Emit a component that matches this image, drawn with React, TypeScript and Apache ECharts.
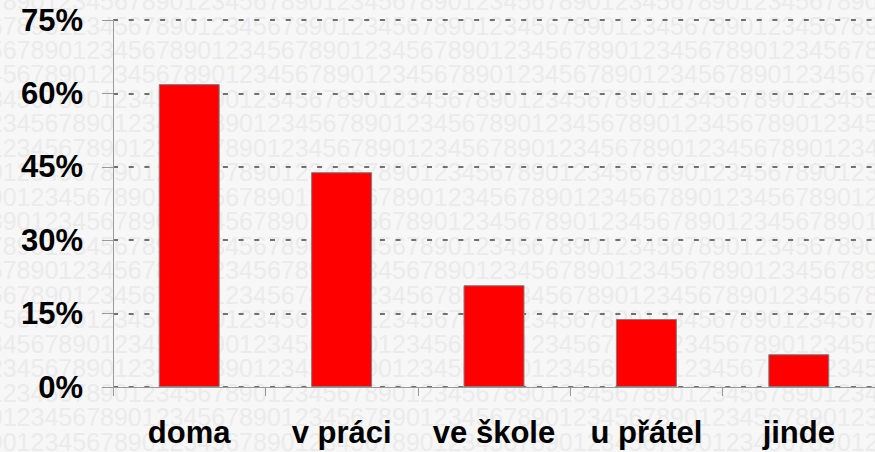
import React, { useEffect, useRef } from "react";
import * as echarts from "echarts";

const categories = ["doma", "v práci", "ve škole", "u přátel", "jinde"];
const shares = [61.9, 43.9, 20.8, 13.9, 6.7];
const yTicks = { min: 0, max: 75, interval: 15 };

function patternRows() {
  const rows: any[] = [];
  for (let k = 0; k < 19; k++) {
    const first = (((5 - k - 28) % 10) + 10) % 10;
    let s = "";
    for (let j = 0; j < 68; j++) {
      s += String((first + j) % 10);
    }
    rows.push({
      type: "text",
      silent: true,
      z: -100,
      x: -11.2,
      y: 50 + 24.47 * (k - 2),
      style: {
        text: s,
        fill: "#ebebeb",
        font: '25px "Liberation Sans", Arial, sans-serif',
        verticalAlign: "middle",
        align: "left",
        textVerticalAlign: "middle",
      },
    });
  }
  return rows;
}

export default function App() {
  const ref = useRef<HTMLDivElement>(null);
  useEffect(() => {
    if (!ref.current) return;
    const chart = echarts.init(ref.current, null, { renderer: "svg" });
    chart.setOption({
      animation: false,
      backgroundColor: "#f7f7f7",
      graphic: { elements: patternRows() },
      grid: { left: 113, top: 20, width: 768.5, height: 367 },
      xAxis: {
        type: "category",
        data: categories,
        boundaryGap: true,
        axisLine: { lineStyle: { color: "#9a9a9a", width: 1 } },
        axisTick: { show: true, length: 9, lineStyle: { color: "#9a9a9a" } },
        axisLabel: {
          interval: 0,
          margin: 30,
          color: "#000",
          fontSize: 31,
          fontWeight: "bold",
          fontFamily: '"Liberation Sans", Arial, sans-serif',
        },
      },
      yAxis: {
        type: "value",
        min: yTicks.min,
        max: yTicks.max,
        interval: yTicks.interval,
        axisLine: { show: true, lineStyle: { color: "#9a9a9a", width: 1 } },
        axisTick: { show: true, length: 11, lineStyle: { color: "#9a9a9a" } },
        axisLabel: {
          formatter: "{value}%",
          margin: 30,
          color: "#000",
          fontSize: 31,
          fontWeight: "bold",
          fontFamily: '"Liberation Sans", Arial, sans-serif',
        },
        splitLine: {
          show: true,
          lineStyle: { color: "#707070", width: 2, type: [5, 10.7] },
        },
      },
      series: [
        {
          type: "bar",
          data: shares,
          barWidth: "40%",
          itemStyle: { color: "#ff0000", borderColor: "#808080", borderWidth: 1 },
        },
      ],
    });
    return () => chart.dispose();
  }, []);
  return (
    <div
      ref={ref}
      style={{ position: "absolute", left: 0, top: 0, width: 875, height: 452 }}
    />
  );
}
